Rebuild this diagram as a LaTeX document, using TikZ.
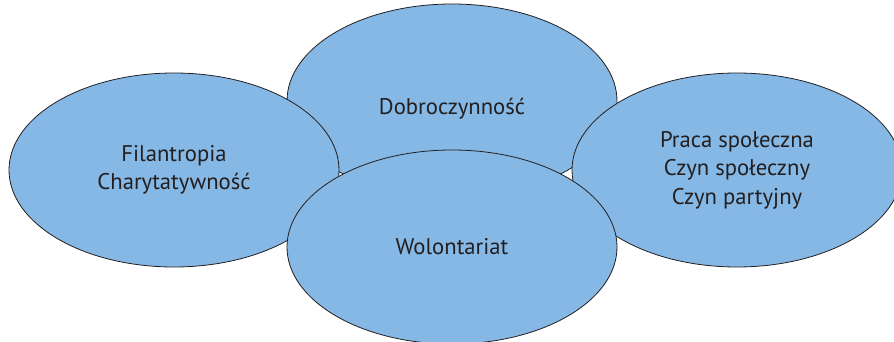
\documentclass[tikz,border=0pt]{standalone}
\usepackage{fontspec}
\setmainfont{PT Sans}
\usetikzlibrary{shapes.geometric}
\definecolor{bubblefill}{HTML}{85B8E5}
\definecolor{bubbletext}{HTML}{231F20}
\tikzset{
    bubble/.style={ellipse, draw=bubbletext, line width=0.6pt, fill=bubblefill,
        minimum width=247.5pt, minimum height=145.5pt, inner sep=0pt,
        text=bubbletext, align=center, font=\fontsize{17}{21.4}\selectfont},
}
\begin{document}
\begin{tikzpicture}[x=0.75pt, y=-0.75pt]

    % the frame
    \useasboundingbox (0, 0) rectangle (894, 342);
    \path[clip] (0, 0) rectangle (894, 342);

    % the bubbles
    \node[bubble] (dobro) at (452, 101) {\raisebox{-10.5pt}[0pt][0pt]{Dobroczynność}};
    \node[bubble] (filan) at (174, 170) {Filantropia\\Charytatywność};
    \node[bubble] (praca) at (737, 170) {Praca społeczna\\Czyn społeczny\\Czyn partyjny};
    \node[bubble] (wolon) at (452, 247) {Wolontariat};

\end{tikzpicture}
\end{document}
